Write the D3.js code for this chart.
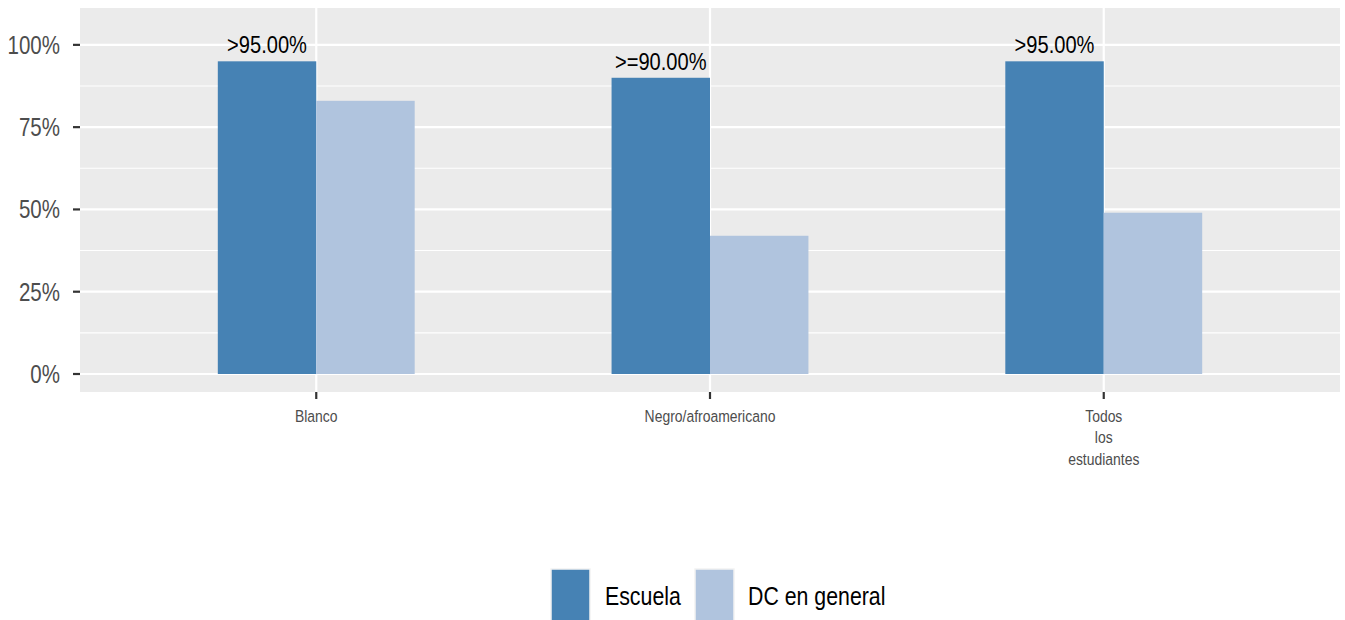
<!DOCTYPE html>
<html>
<head>
<meta charset="utf-8">
<script src="https://cdn.jsdelivr.net/npm/d3@7"></script>
<style>
  body { margin: 0; background: #fff; }
  text { font-family: "Liberation Sans", Arial, sans-serif; }
</style>
</head>
<body>
<div id="chart"></div>
<script>
const w = 1345;
const h = 620;

// data
const categories = ["Blanco", "Negro/afroamericano", "Todos los estudiantes"];
const series = ["Escuela", "DC en general"];
const escuela = [95, 90, 95];
const dcGeneral = [83, 42, 49];
const barLabels = [">95.00%", ">=90.00%", ">95.00%"];
const yTicks = [0, 25, 50, 75, 100];
const yMinor = [12.5, 37.5, 62.5, 87.5];
const colors = ["#4682b4", "#b0c4de"];

const panel = {left: 80, right: 1340, top: 8, bottom: 392};
const narrow = 0.82; // no narrow font installed, squeeze Liberation Sans instead

const svg = d3.select("#chart")
    .append("svg")
    .attr("width", w)
    .attr("height", h);

const place = (px, py) => `translate(${px},${py}) scale(${narrow},1)`;

// scales
const x = d3.scaleLinear()
    .domain([0.4, categories.length + 0.6])
    .range([panel.left, panel.right]);
const y = d3.scaleLinear()
    .domain([-5.47, 111.2])
    .range([panel.bottom, panel.top]);
const barW = x(1.25) - x(1);

// panel background
svg.append("rect")
    .attr("x", panel.left)
    .attr("y", panel.top)
    .attr("width", panel.right - panel.left)
    .attr("height", panel.bottom - panel.top)
    .attr("fill", "#ebebeb");

// grid
svg.append("g").selectAll("line")
    .data(yMinor)
    .enter().append("line")
    .attr("x1", panel.left).attr("x2", panel.right)
    .attr("y1", d => y(d)).attr("y2", d => y(d))
    .attr("stroke", "#fff").attr("stroke-width", 1.1);
svg.append("g").selectAll("line")
    .data(yTicks)
    .enter().append("line")
    .attr("x1", panel.left).attr("x2", panel.right)
    .attr("y1", d => y(d)).attr("y2", d => y(d))
    .attr("stroke", "#fff").attr("stroke-width", 2.2);
svg.append("g").selectAll("line")
    .data(categories)
    .enter().append("line")
    .attr("x1", (d, i) => x(i + 1)).attr("x2", (d, i) => x(i + 1))
    .attr("y1", panel.top).attr("y2", panel.bottom)
    .attr("stroke", "#fff").attr("stroke-width", 2.2);

// bars
const rows = categories.map((c, i) => ({i: i, vals: [escuela[i], dcGeneral[i]]}));
const groups = svg.append("g").selectAll("g")
    .data(rows)
    .enter().append("g");
groups.selectAll("rect")
    .data(d => d.vals.map((v, k) => ({i: d.i, k: k, v: v})))
    .enter().append("rect")
    .attr("x", d => x(d.i + 1) - barW + d.k * barW)
    .attr("y", d => y(d.v))
    .attr("width", barW)
    .attr("height", d => y(0) - y(d.v))
    .attr("fill", d => colors[d.k]);

// bar labels
svg.append("g").selectAll("text")
    .data(barLabels)
    .enter().append("text")
    .attr("transform", (d, i) => place(x(i + 1) - barW / 2, y(escuela[i]) - 8))
    .attr("text-anchor", "middle")
    .attr("font-size", 24.5)
    .attr("fill", "#000")
    .text(d => d);

// y axis
const yAxis = svg.append("g");
yAxis.selectAll("line")
    .data(yTicks)
    .enter().append("line")
    .attr("x1", panel.left - 7).attr("x2", panel.left)
    .attr("y1", d => y(d)).attr("y2", d => y(d))
    .attr("stroke", "#333").attr("stroke-width", 2.2);
yAxis.selectAll("text")
    .data(yTicks)
    .enter().append("text")
    .attr("transform", d => place(panel.left - 20, y(d) + 9))
    .attr("text-anchor", "end")
    .attr("font-size", 25)
    .attr("fill", "#4d4d4d")
    .text(d => d + "%");

// x axis
const xAxis = svg.append("g");
xAxis.selectAll("line")
    .data(categories)
    .enter().append("line")
    .attr("x1", (d, i) => x(i + 1)).attr("x2", (d, i) => x(i + 1))
    .attr("y1", panel.bottom).attr("y2", panel.bottom + 7)
    .attr("stroke", "#333").attr("stroke-width", 2.2);
xAxis.selectAll("text")
    .data(categories)
    .enter().append("text")
    .attr("transform", (d, i) => place(x(i + 1), 422))
    .attr("text-anchor", "middle")
    .attr("font-size", 17)
    .attr("fill", "#4d4d4d")
    .each(function(d) {
        const lines = d === "Todos los estudiantes" ? d.split(" ") : [d];
        d3.select(this).selectAll("tspan")
            .data(lines)
            .enter().append("tspan")
            .attr("x", 0)
            .attr("dy", (l, j) => j === 0 ? 0 : 21.5)
            .text(l => l);
    });

// legend
const legend = svg.append("g");
const keyX = [550, 694];
const labelX = [605, 748];
legend.selectAll("rect")
    .data(series)
    .enter().append("rect")
    .attr("x", (d, i) => keyX[i] + 1)
    .attr("y", 569)
    .attr("width", 39)
    .attr("height", 60)
    .attr("fill", (d, i) => colors[i])
    .attr("stroke", "#f2f2f2")
    .attr("stroke-width", 1.5);
legend.selectAll("text")
    .data(series)
    .enter().append("text")
    .attr("transform", (d, i) => place(labelX[i], 605))
    .attr("font-size", 26)
    .attr("fill", "#000")
    .text(d => d);
</script>
</body>
</html>
